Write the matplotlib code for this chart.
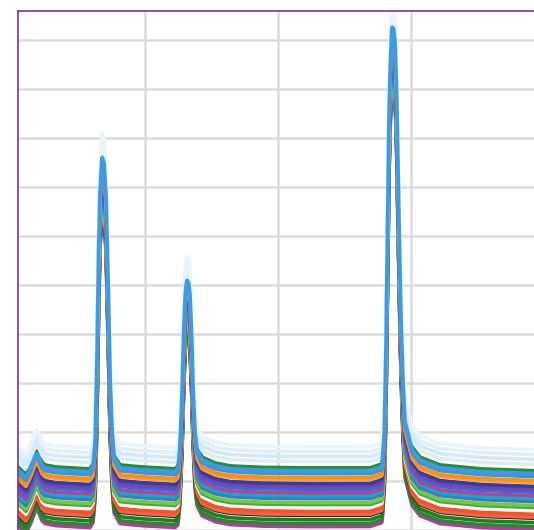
import numpy as np
import matplotlib
matplotlib.use("Agg")
import matplotlib.pyplot as plt

# shared spectral shape (height above each trace's baseline)
profile_x = [4.5, 7.5, 10.5, 14.3, 17.0, 18.8, 20.5, 22.5, 24.8, 32.3, 43.6, 58.6,
             60.9, 62.5, 63.8, 65.0, 66.2, 67.7, 69.2, 70.7, 72.2, 73.7, 75.2, 76.7, 81.2,
             96.2, 111.3, 122.6, 124.8, 126.3, 127.8, 129.3, 130.5, 131.6, 132.8, 133.8,
             135.0, 136.1, 137.6, 139.1, 142.9, 152.6, 163.9, 186.5, 216.5, 246.6, 269.2,
             278.2, 280.0, 281.2, 282.5, 283.5, 284.6, 285.7, 286.9, 288.0, 289.1, 290.2,
             291.4, 292.5, 294.0, 295.5, 300.8, 306.8, 321.8, 351.9, 392.5]
profile_y = [0.04, -0.04, -0.12, 0.10, 0.30, 0.37, 0.28, 0.14, 0.08, 0.04, 0.02, 0.0,
             0.10, 0.60, 2.04, 4.30, 5.71, 6.43, 6.30, 5.60, 3.90, 1.90, 0.82, 0.30, 0.08,
             0.04, 0.02, 0.0, 0.06, 0.50, 1.50, 3.00, 3.70, 3.92, 3.85, 3.60,
             2.80, 1.70, 0.80, 0.45, 0.24, 0.12, 0.06, 0.03, 0.02, 0.02, 0.02,
             0.10, 0.80, 2.45, 5.20, 7.20, 8.40, 9.08, 9.05, 8.75, 7.80, 6.12,
             4.40, 3.06, 1.80, 1.02, 0.45, 0.24, 0.08, 0.0, -0.04]

# trace baselines (bottom to top of the stack) and their colours
base_levels = [0.04, 0.10, 0.18, 0.27, 0.29, 0.35, 0.43, 0.49, 0.53, 0.61, 0.67,
               0.73, 0.80, 0.86, 0.92, 1.00, 1.04, 1.12, 1.24, 1.37, 1.47, 1.57, 1.67]
line_colors = ["#b23aa6", "#2a8a2a", "#1f7d22", "#222222", "#ff6040", "#f2522e",
               "#f4f4f4", "#38b04a", "#7dc53a", "#2b7fd4", "#1fa5c0", "#c23b9b",
               "#2f6fd0", "#7b3fb5", "#3b3b98", "#f5a623", "#ff8c1a", "#3399dd",
               "#2e8b2e", "#dcedf8", "#d4e9f6", "#e0eff9", "#eaf4fb"]
main_base = 1.18
main_color = "#3d9be3"

x = np.linspace(4.5, 400, 1200)
shape = np.interp(x, profile_x, profile_y)

fig = plt.figure(figsize=(5.34, 5.30), dpi=100)
ax = fig.add_axes([18 / 534, -24 / 530, 526 / 534, 543 / 530])

for b, c in zip(base_levels, line_colors):
    ax.plot(x, shape + b, color=c, lw=2.6, solid_joinstyle="round")
ax.plot(x, shape + main_base, color=main_color, lw=2.8)

ax.set_xlim(4.5, 400)
ax.set_ylim(-0.5, 10.59)
ax.set_xticks([100, 200, 300])
ax.set_yticks(range(0, 11))
ax.grid(True, color="#dcdcdc", lw=1.8)
ax.set_axisbelow(True)
ax.tick_params(length=0, labelbottom=False, labelleft=False)
for side in ["right", "bottom"]:
    ax.spines[side].set_visible(False)
for side in ["top", "left"]:
    ax.spines[side].set_color("#7b2fa8")
    ax.spines[side].set_linewidth(1.2)

fig.savefig("out.png", dpi=100)
